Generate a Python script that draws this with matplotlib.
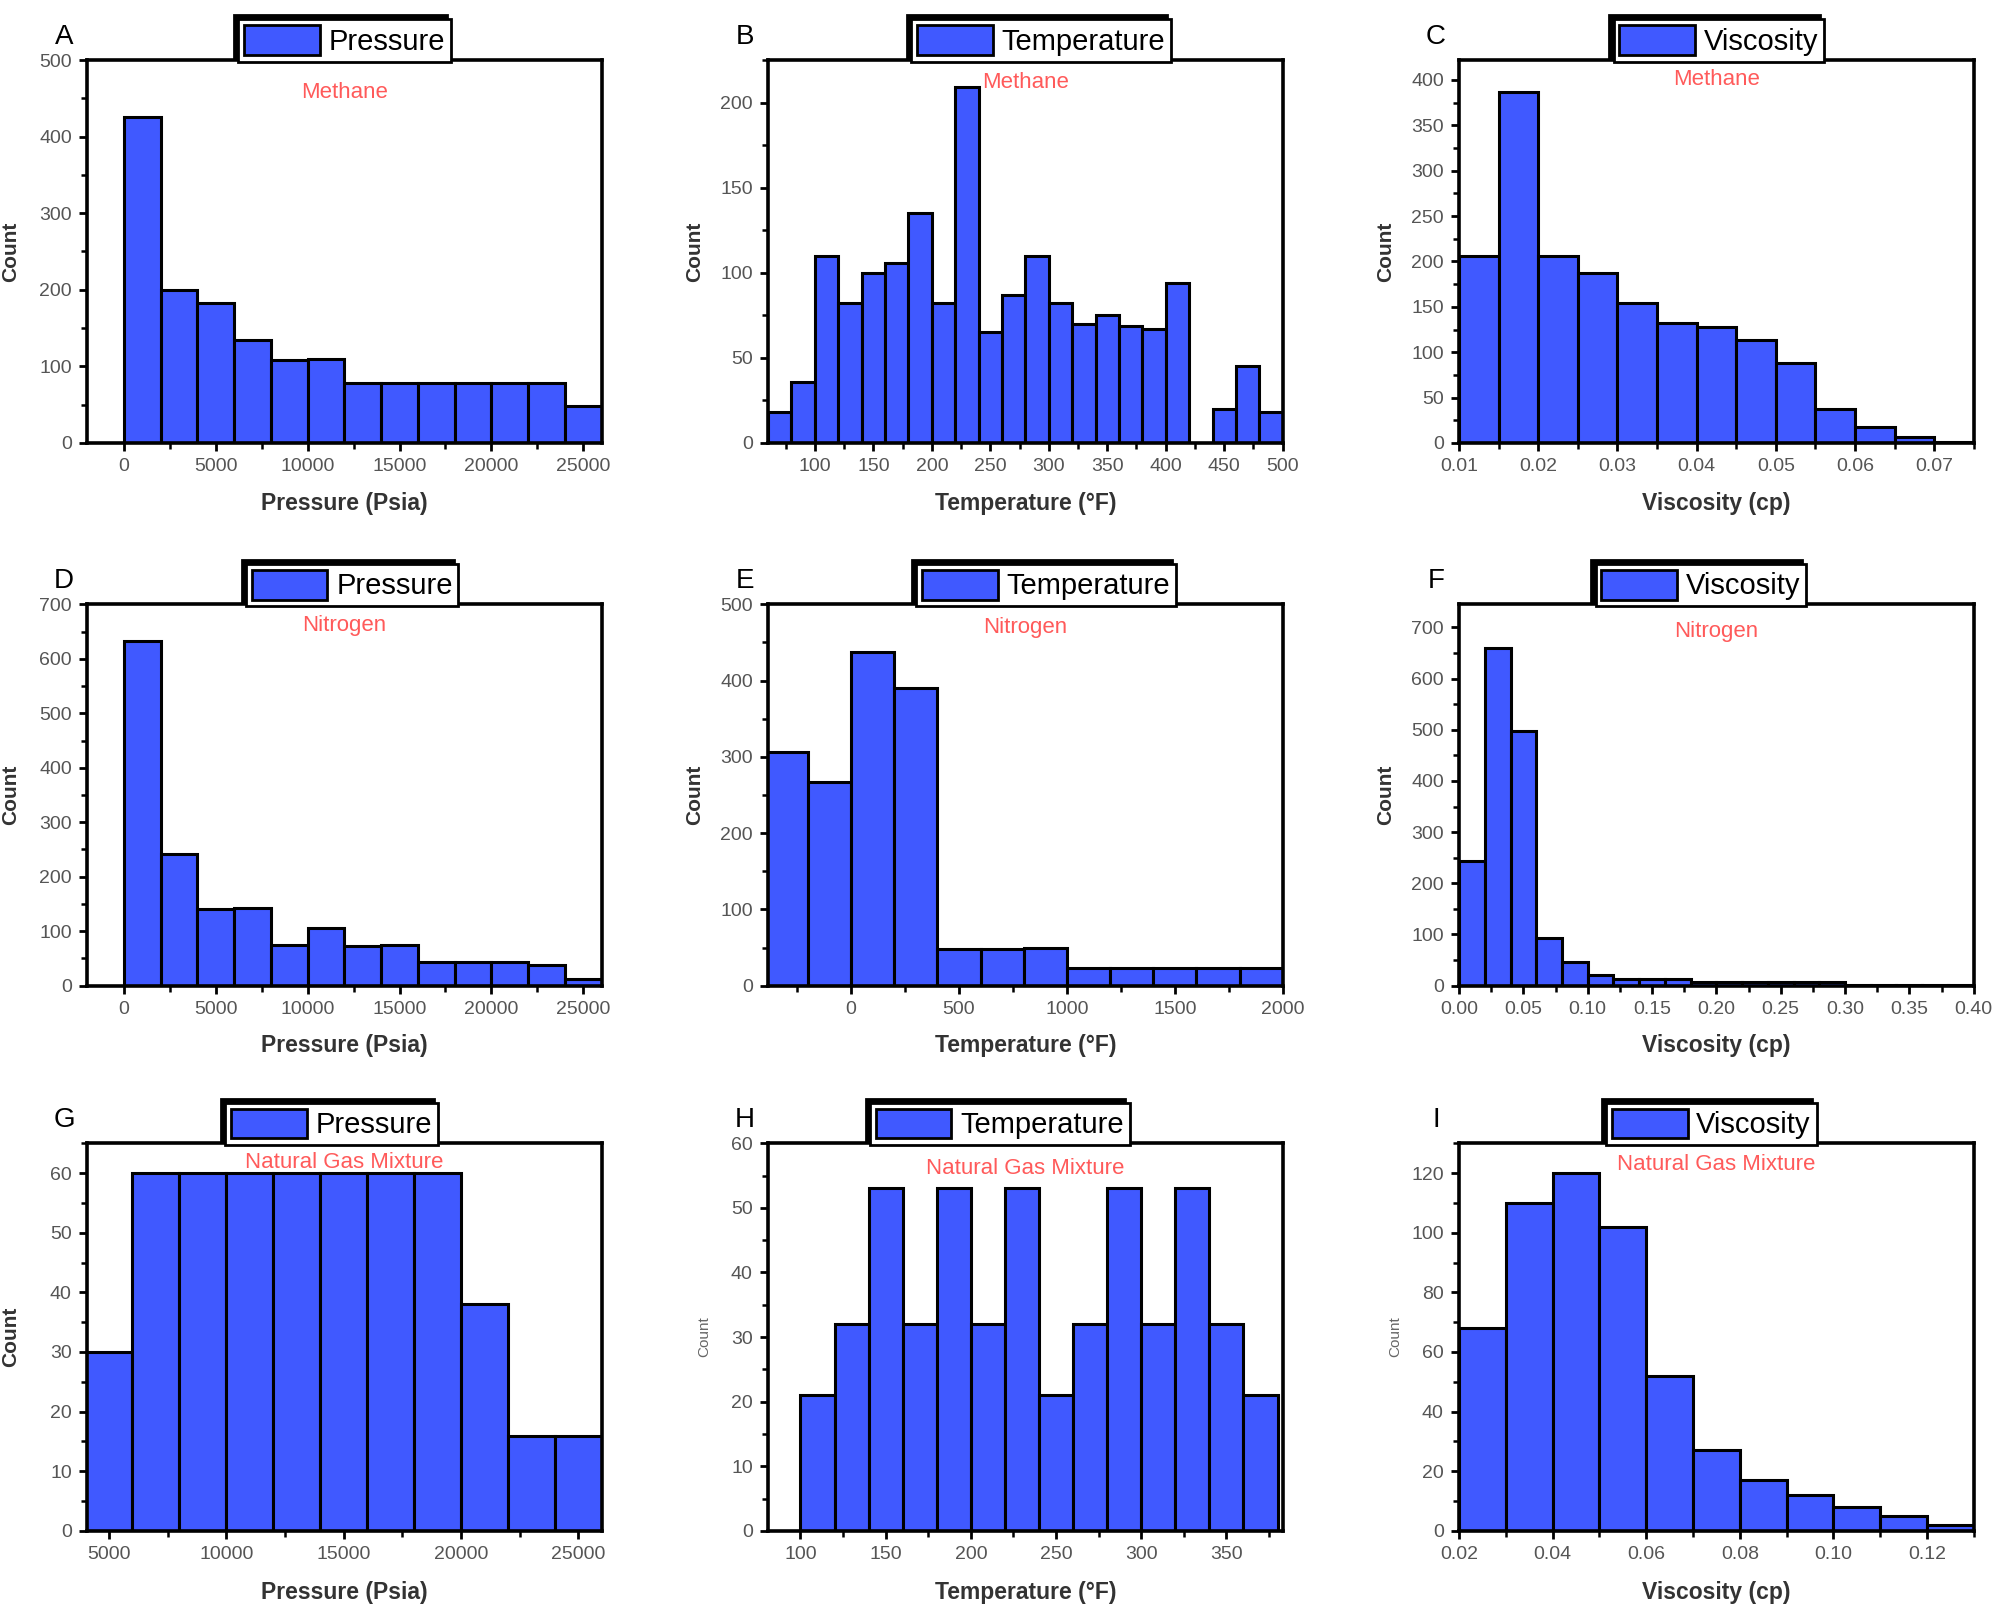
import numpy as np
import matplotlib.pyplot as plt
from matplotlib.patches import Patch
from matplotlib.ticker import FormatStrFormatter, AutoMinorLocator

plt.rcParams['font.family'] = ['Liberation Sans', 'DejaVu Sans']

# Methane
meth_p_edges = np.arange(0, 26001, 2000)
meth_p_counts = [425, 200, 183, 135, 108, 109, 78, 78, 78, 78, 78, 78, 48]
meth_t_edges = np.arange(60, 501, 20)
meth_t_counts = [18, 36, 110, 82, 100, 106, 135, 82, 209, 65, 87,
                 110, 82, 70, 75, 69, 67, 94, 0, 20, 45, 18]
meth_v_edges = np.linspace(0.01, 0.075, 14)
meth_v_counts = [206, 387, 206, 187, 154, 132, 128, 114, 88, 37, 18, 7, 1]

# Nitrogen
nit_p_edges = np.arange(0, 26001, 2000)
nit_p_counts = [632, 241, 141, 143, 74, 105, 73, 74, 44, 44, 44, 38, 13]
nit_t_edges = np.arange(-400, 2001, 200)
nit_t_counts = [306, 267, 438, 390, 48, 48, 49, 23, 23, 23, 23, 23]
nit_v_edges = np.linspace(0.0, 0.40, 21)
nit_v_counts = [243, 660, 498, 93, 47, 20, 13, 13, 13, 7, 7, 7, 7, 7, 7,
                2, 2, 2, 2, 2]

# Natural gas mixture
mix_p_edges = np.arange(4000, 26001, 2000)
mix_p_counts = [30, 60, 60, 60, 60, 60, 60, 60, 38, 16, 16]
mix_t_edges = np.arange(100, 381, 20)
mix_t_counts = [21, 32, 53, 32, 53, 32, 53, 21, 32, 53, 32, 53, 32, 21]
mix_v_edges = np.linspace(0.02, 0.13, 12)
mix_v_counts = [68, 110, 120, 102, 52, 27, 17, 12, 8, 5, 2]

letters = ['A', 'B', 'C', 'D', 'E', 'F', 'G', 'H', 'I']
gases = ['Methane', 'Nitrogen', 'Natural Gas Mixture']
props = ['Pressure', 'Temperature', 'Viscosity']
xlabels = ['Pressure (Psia)', 'Temperature (°F)', 'Viscosity (cp)']

BLUE = '#4059ff'
RED = '#ff5a5a'

panels = [
    (meth_p_edges, meth_p_counts, (-2000, 26000), (0, 500), np.arange(0, 25001, 5000), np.arange(0, 501, 100), None),
    (meth_t_edges, meth_t_counts, (60, 500), (0, 225), np.arange(100, 501, 50), np.arange(0, 201, 50), None),
    (meth_v_edges, meth_v_counts, (0.01, 0.075), (0, 422), np.linspace(0.01, 0.07, 7), np.arange(0, 401, 50), '%.2f'),
    (nit_p_edges, nit_p_counts, (-2000, 26000), (0, 700), np.arange(0, 25001, 5000), np.arange(0, 701, 100), None),
    (nit_t_edges, nit_t_counts, (-385, 2000), (0, 500), np.arange(0, 2001, 500), np.arange(0, 501, 100), None),
    (nit_v_edges, nit_v_counts, (0, 0.40), (0, 745), np.linspace(0, 0.40, 9), np.arange(0, 701, 100), '%.2f'),
    (mix_p_edges, mix_p_counts, (4070, 26000), (0, 65), np.arange(5000, 25001, 5000), np.arange(0, 61, 10), None),
    (mix_t_edges, mix_t_counts, (81, 383), (0, 60), np.arange(100, 351, 50), np.arange(0, 61, 10), None),
    (mix_v_edges, mix_v_counts, (0.02, 0.13), (0, 130), np.linspace(0.02, 0.12, 6), np.arange(0, 121, 20), '%.2f'),
]

legend_x = [0.50, 0.53, 0.505, 0.515, 0.54, 0.47, 0.475, 0.45, 0.49]
gas_y = [0.915, 0.94, 0.95, 0.945, 0.94, 0.93, 0.95, 0.935, 0.945]

col_left = [0.0434, 0.3827, 0.727]
row_bottom = [0.7247, 0.3874, 0.0485]
row_height = [0.238, 0.237, 0.241]
width = 0.2564

fig = plt.figure(figsize=(20.07, 16.09), dpi=100)

for i, (edges, counts, xlim, ylim, xt, yt, fmt) in enumerate(panels):
    r, c = divmod(i, 3)
    ax = fig.add_axes([col_left[c], row_bottom[r], width, row_height[r]])
    ax.hist(edges[:-1], bins=edges, weights=counts, color=BLUE,
            edgecolor='black', linewidth=2.2)
    ax.set_xlim(*xlim)
    ax.set_ylim(*ylim)
    ax.set_xticks(xt)
    ax.set_yticks(yt)
    if fmt:
        ax.xaxis.set_major_formatter(FormatStrFormatter(fmt))
    ax.xaxis.set_minor_locator(AutoMinorLocator(2))
    ax.yaxis.set_minor_locator(AutoMinorLocator(2))
    ax.tick_params(which='major', direction='out', length=6, width=2,
                   labelsize=14, labelcolor='#555555', pad=5)
    ax.tick_params(which='minor', direction='out', length=4, width=1.8)
    for s in ax.spines.values():
        s.set_linewidth(2.6)

    ax.set_xlabel(xlabels[c], fontsize=16.5, fontweight='bold', color='#333333')
    ax.xaxis.set_label_coords(0.5, -0.128)
    if r == 2 and c > 0:
        ax.set_ylabel('Count', fontsize=11, color='#666666')
        ax.yaxis.set_label_coords(-0.11, 0.5)
    else:
        ax.set_ylabel('Count', fontsize=15, fontweight='bold', color='#333333')
        ax.yaxis.set_label_coords(-0.13 if c == 0 else -0.125, 0.5)

    ax.text(0.5, gas_y[i], gases[r], transform=ax.transAxes, ha='center',
            va='center', fontsize=16, color=RED)
    ax.text(-0.045, 1.06, letters[i], transform=ax.transAxes, ha='center',
            va='center', fontsize=20)

    handle = Patch(facecolor=BLUE, edgecolor='black', linewidth=2)
    leg = ax.legend([handle], [props[c]], loc='lower center',
                    bbox_to_anchor=(legend_x[i], 0.995), fontsize=21,
                    handlelength=2.6, handleheight=1.2, handletextpad=0.3,
                    borderpad=0.2, borderaxespad=0, fancybox=False,
                    framealpha=1,
                    shadow={'ox': -3, 'oy': 3, 'color': 'black', 'alpha': 1})
    leg.get_frame().set_edgecolor('black')
    leg.get_frame().set_linewidth(2.0)

fig.savefig('out.png', dpi=100)
